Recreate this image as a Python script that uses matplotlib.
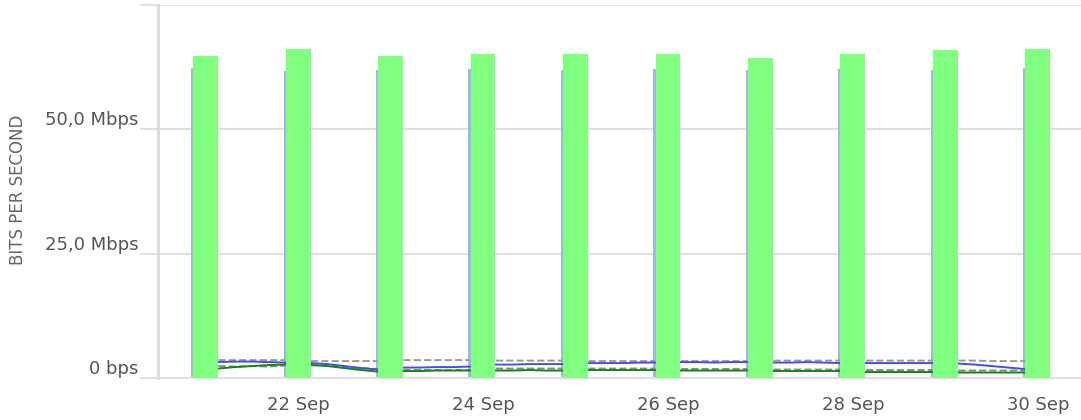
import numpy as np
import matplotlib.pyplot as plt
import matplotlib.dates as mdates
from datetime import datetime, timedelta

# Pics diaris (barres verdes) i petits valors entre pics, en Mbps
dies = [21, 22, 23, 24, 25, 26, 27, 28, 29, 30]
pics = [64.7, 66.1, 64.7, 65.1, 65.1, 65.1, 64.3, 65.1, 65.9, 66.1]
pics_blau = [62.3, 61.8, 62.0, 62.1, 62.0, 62.2, 62.0, 62.1, 62.0, 62.3]

# 5 mostres per interval entre dos dies consecutius
entrada = [3.2, 3.3, 3.3, 3.2, 3.1,
           3.0, 2.8, 2.4, 2.0, 1.7,
           2.1, 2.1, 2.2, 2.2, 2.3,
           2.7, 2.7, 2.8, 2.8, 2.8,
           3.0, 3.0, 3.0, 3.1, 3.1,
           3.2, 3.2, 3.1, 3.2, 3.2,
           3.1, 3.1, 3.2, 3.1, 3.0,
           3.0, 3.0, 3.0, 3.0, 3.0,
           2.9, 2.7, 2.4, 2.1, 1.8]
sortida = [1.9, 2.2, 2.4, 2.6, 2.7,
           2.6, 2.4, 2.0, 1.6, 1.3,
           1.4, 1.4, 1.5, 1.5, 1.5,
           1.5, 1.5, 1.6, 1.5, 1.5,
           1.6, 1.6, 1.6, 1.6, 1.6,
           1.5, 1.5, 1.5, 1.5, 1.5,
           1.4, 1.4, 1.4, 1.4, 1.4,
           1.2, 1.2, 1.2, 1.2, 1.2,
           1.1, 1.1, 1.1, 1.1, 1.1]
mitja_ent = [3.6, 3.6, 3.6, 3.6, 3.6,
             3.4, 3.4, 3.4, 3.4, 3.4,
             3.6, 3.6, 3.6, 3.6, 3.6,
             3.5, 3.5, 3.5, 3.5, 3.5,
             3.4, 3.4, 3.4, 3.4, 3.4,
             3.4, 3.4, 3.4, 3.4, 3.4,
             3.5, 3.5, 3.5, 3.5, 3.5,
             3.5, 3.5, 3.5, 3.5, 3.5,
             3.5, 3.5, 3.4, 3.4, 3.4]
mitja_sort = [2.4, 2.3, 2.4, 2.3, 2.5,
              2.6, 2.5, 2.3, 2.0, 1.8,
              1.6, 1.6, 1.6, 1.6, 1.6,
              1.9, 1.9, 1.9, 1.9, 1.9,
              1.9, 1.9, 1.9, 1.9, 1.9,
              1.8, 1.8, 1.8, 1.8, 1.8,
              1.7, 1.7, 1.7, 1.7, 1.7,
              1.6, 1.6, 1.6, 1.6, 1.6,
              1.5, 1.5, 1.5, 1.5, 1.5]
fraccions = [0.14, 0.32, 0.5, 0.68, 0.86]
etiquetes_y = ['0 bps', '25,0 Mbps', '50,0 Mbps', '']

dates_pics = [datetime(2021, 9, d) for d in dies]
temps = []
for d in dies[:-1]:
    for f in fraccions:
        temps.append(datetime(2021, 9, d) + timedelta(days=f))
    temps.append(datetime(2021, 9, d) + timedelta(days=0.9))  # tall entre intervals

def amb_talls(v):
    out = []
    for i in range(len(dies) - 1):
        out += v[i*5:(i+1)*5] + [np.nan]
    return np.array(out) * 1e6

fig = plt.figure(figsize=(10.81, 4.2), dpi=100)
ax = fig.add_axes([158/1081, 42/420, 923/1081, 373/420])

ax.bar([d - timedelta(days=0.022) for d in dates_pics], np.array(pics_blau) * 1e6,
       width=0.27, color='#a4b4e4', zorder=2)
ax.bar(dates_pics, np.array(pics) * 1e6, width=0.27, color='#80ff80', zorder=3)

for vals, col, ls in [(mitja_ent, '#999999', '--'), (mitja_sort, '#888888', '--'),
                      (entrada, '#4a4af0', '-'), (sortida, '#118811', '-')]:
    y = amb_talls(vals)
    ax.plot(temps, y, color=col, lw=1.4, ls=ls, zorder=2)

ax.set_xlim(datetime(2021, 9, 20, 11, 40), datetime(2021, 9, 30, 11, 10))
ax.set_ylim(0, 75e6)
ax.set_yticks([0, 25e6, 50e6, 75e6])
ax.set_yticklabels(etiquetes_y)
ax.grid(axis='y', color='#e0e0e0', lw=1.5, zorder=0)
ax.tick_params(axis='y', length=13, color='#e0e0e0', width=1.5, pad=1,
               labelsize=13, labelcolor='#555555')
for lab in ax.get_yticklabels():
    lab.set_verticalalignment('bottom')

ax.xaxis.set_major_locator(mdates.DayLocator(bymonthday=[22, 24, 26, 28, 30]))
ax.xaxis.set_major_formatter(mdates.DateFormatter('%d Sep'))
ax.tick_params(axis='x', length=0, pad=13, labelsize=13, labelcolor='#555555')

for s in ['top', 'right']:
    ax.spines[s].set_visible(False)
ax.spines['left'].set_color('#d8d8d8')
ax.spines['left'].set_linewidth(2)
ax.spines['bottom'].set_color('#e0e0e0')
ax.spines['bottom'].set_linewidth(1.5)

fig.text(18/1081, 1 - 190/420, 'BITS PER SECOND', rotation=90, ha='center',
         va='center', fontsize=12, color='#666666')

fig.savefig('out.png', dpi=100)
